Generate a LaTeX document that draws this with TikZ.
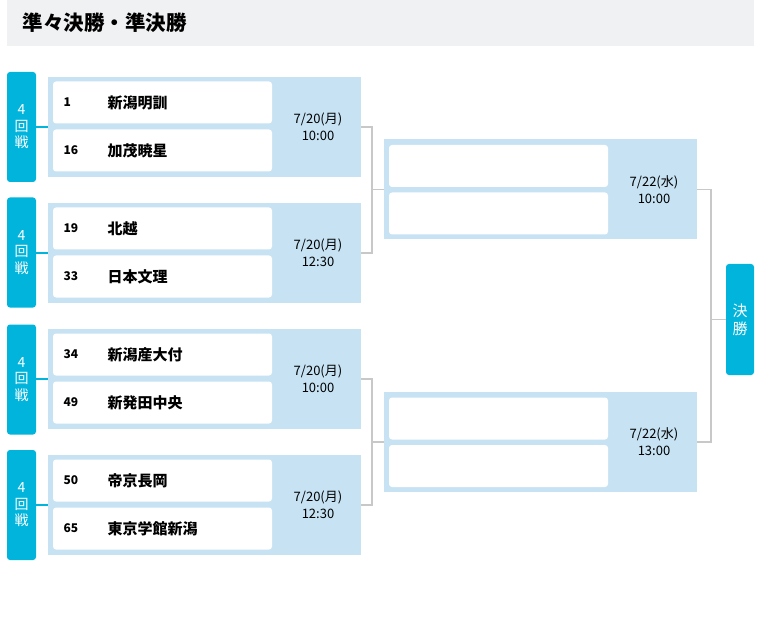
\documentclass[tikz,border=0pt]{standalone}
\usepackage{fontspec}
\setmainfont{Noto Sans CJK JP}
\usetikzlibrary{positioning}
\definecolor{rndcyan}{HTML}{00B4DC}
\definecolor{panelblue}{HTML}{C6E2F3}
\definecolor{titlegray}{HTML}{F0F1F3}
\definecolor{linegray}{HTML}{C8C8C8}

\begin{document}
\begin{tikzpicture}[x=1pt, y=-1pt,
  rnd/.style={fill=rndcyan, rounded corners=3pt, minimum width=29pt, minimum height=110pt, inner sep=0pt, text=white, align=center, font=\fontsize{14}{16.5}\selectfont},
  pnl/.style={fill=panelblue, minimum width=313pt, minimum height=100pt, inner sep=0pt},
  slot/.style={fill=white, rounded corners=3pt, minimum width=219pt, minimum height=42pt, inner sep=0pt},
  seed/.style={anchor=west, font=\fontsize{12}{14}\selectfont\bfseries},
  team/.style={anchor=west, font=\fontsize{15}{18}\selectfont\bfseries},
  when/.style={align=center, font=\fontsize{13}{17}\selectfont},
  tie/.style={draw=rndcyan, line width=2.5pt},
  bracket/.style={draw=linegray, line width=1.5pt},
]
\useasboundingbox (0,0) rectangle (778,617);
% ---- title bar ----
\fill[titlegray] (7,0) rectangle (754,46);
\node[anchor=west, font=\fontsize{20.5}{24}\selectfont\bfseries] (ttl) at (19,22.5) {準々決勝・準決勝};

% ---- quarterfinal A ----
\node[rnd] (r1) at (21.5,127) {4\\回\\戦};
\node[pnl] (p1) at (204.5,127) {};
\node[slot] (a1) at (162.5,102.5) {};
\node[slot] (a2) at (162.5,150.5) {};
\node[seed] (n1) at (60,102.5) {1};
\node[team] (t1) at (104,102.5) {新潟明訓};
\node[seed] (n2) at (60,150.5) {16};
\node[team] (t2) at (104,150.5) {加茂暁星};
\node[when] (d1) at (318,127) {7/20(月)\\10:00};
\draw[tie] (r1) -- (p1);

% ---- quarterfinal B ----
\node[rnd] (r2) at (21.5,252.5) {4\\回\\戦};
\node[pnl] (p2) at (204.5,253) {};
\node[slot] (b1) at (162.5,228.5) {};
\node[slot] (b2) at (162.5,276.5) {};
\node[seed] (n3) at (60,228.5) {19};
\node[team] (t3) at (104,228.5) {北越};
\node[seed] (n4) at (60,276.5) {33};
\node[team] (t4) at (104,276.5) {日本文理};
\node[when] (d2) at (318,253) {7/20(月)\\12:30};
\draw[tie] (r2.east |- p2) -- (p2);

% ---- quarterfinal C ----
\node[rnd] (r3) at (21.5,379.5) {4\\回\\戦};
\node[pnl] (p3) at (204.5,379) {};
\node[slot] (c1) at (162.5,354.5) {};
\node[slot] (c2) at (162.5,402.5) {};
\node[seed] (n5) at (60,354.5) {34};
\node[team] (t5) at (104,354.5) {新潟産大付};
\node[seed] (n6) at (60,402.5) {49};
\node[team] (t6) at (104,402.5) {新発田中央};
\node[when] (d3) at (318,379) {7/20(月)\\10:00};
\draw[tie] (r3.east |- p3) -- (p3);

% ---- quarterfinal D ----
\node[rnd] (r4) at (21.5,505) {4\\回\\戦};
\node[pnl] (p4) at (204.5,505) {};
\node[slot] (e1) at (162.5,480.5) {};
\node[slot] (e2) at (162.5,528.5) {};
\node[seed] (n7) at (60,480.5) {50};
\node[team] (t7) at (104,480.5) {帝京長岡};
\node[seed] (n8) at (60,528.5) {65};
\node[team] (t8) at (104,528.5) {東京学館新潟};
\node[when] (d4) at (318,505) {7/20(月)\\12:30};
\draw[tie] (r4) -- (p4);

% ---- semifinals ----
\node[pnl] (s1) at (540.5,189.5) {};
\node[slot] (u1) at (498.5,166) {};
\node[slot] (u2) at (498.5,213.5) {};
\node[when] (d5) at (654,189.5) {7/22(水)\\10:00};
\node[pnl] (s2) at (540.5,442) {};
\node[slot] (v1) at (498.5,418.5) {};
\node[slot] (v2) at (498.5,466) {};
\node[when] (d6) at (654,442) {7/22(水)\\13:00};

% ---- final ----
\node[rnd, minimum width=28pt, minimum height=111pt, font=\fontsize{15}{18}\selectfont] (fin) at (740,319.5) {決\\勝};

% ---- bracket lines ----
\draw[bracket] (p1.east) -- ++(11,0) |- (s1.west);
\draw[bracket] (p2.east) -- ++(11,0) |- (s1.west);
\draw[bracket] (p3.east) -- ++(11,0) |- (s2.west);
\draw[bracket] (p4.east) -- ++(11,0) |- (s2.west);
\draw[bracket] (s1.east) -- ++(14,0) |- (fin.west);
\draw[bracket] (s2.east) -- ++(14,0) |- (fin.west);
\end{tikzpicture}
\end{document}
